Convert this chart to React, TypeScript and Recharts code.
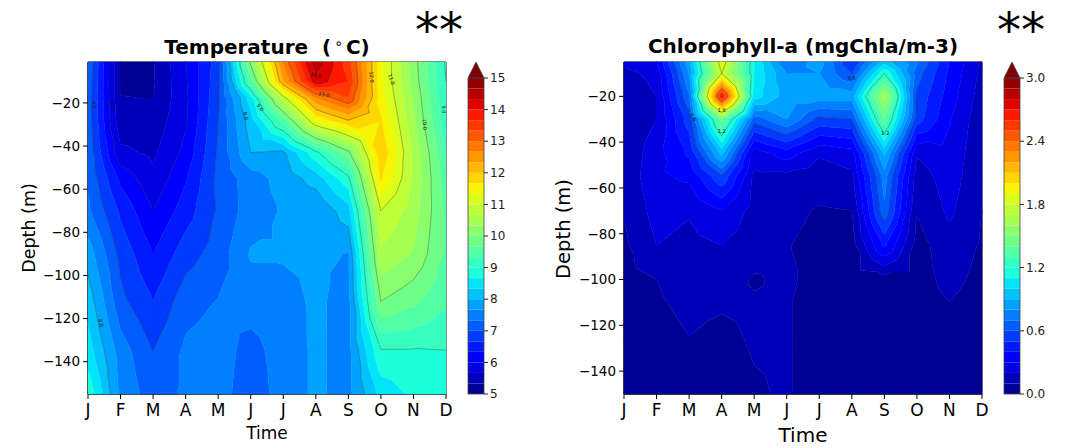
import { ScatterChart, Scatter, XAxis, YAxis, ReferenceArea, Label } from "recharts"

const FONT = "DejaVu Sans"

const months = ["J", "F", "M", "A", "M", "J", "J", "A", "S", "O", "N", "D"]
const monthTicks = [0, 1, 2, 3, 4, 5, 6, 7, 8, 9, 10, 11]

const tempDepths = [-1, -10, -18, -28, -43, -55, -70, -90, -112, -135, -155]
const tempTicks = [-140, -120, -100, -80, -60, -40, -20]
const tempLevels = Array.from({ length: 31 }, (_, i) => 5 + i / 3)
const tempLineLevels = [6, 7, 8, 9, 10, 11, 12, 13, 14]
const tempBarTicks = [5, 6, 7, 8, 9, 10, 11, 12, 13, 14, 15]
// one list per month, top to bottom
const tempByMonth = [
    [7.3, 7.25, 7.2, 7.2, 7.25, 7.3, 7.4, 7.85, 8.2, 8.5, 8.9],
    [5.3, 5.3, 5.34, 5.42, 5.75, 6.25, 6.6, 6.9, 7.1, 7.5, 7.6],
    [5.3, 5.3, 5.33, 5.45, 5.6, 5.75, 6.0, 6.33, 6.67, 7.0, 7.15],
    [5.98, 5.96, 5.93, 5.95, 6.1, 6.3, 6.5, 6.85, 7.2, 7.4, 7.4],
    [6.85, 6.9, 6.95, 7.0, 7.05, 7.1, 7.05, 7.15, 7.35, 7.5, 7.5],
    [10.1, 9.5, 8.5, 8.2, 8.0, 7.5, 7.5, 7.7, 7.5, 7.2, 7.1],
    [12.7, 12.3, 10.8, 9.5, 7.95, 7.8, 7.7, 7.7, 7.55, 7.5, 7.5],
    [14.6, 14.2, 12.6, 11.4, 8.9, 8.15, 7.7, 7.7, 7.72, 7.72, 7.72],
    [13.5, 13.65, 13.3, 12, 9.9, 8.9, 8.2, 7.66, 7.56, 7.56, 7.56],
    [11.4, 11.4, 11.5, 11.7, 11.95, 11.7, 11.0, 10.6, 10.0, 8.97, 8.45],
    [10.15, 10.2, 10.3, 10.4, 10.6, 10.6, 10.5, 10.3, 9.75, 8.97, 8.74],
    [8.95, 9.0, 9.05, 9.1, 9.35, 9.5, 9.6, 9.6, 9.4, 8.99, 8.85],
]
const tempLabels = [
    { x: 0.18, y: -21, text: "7.0", angle: 85 },
    { x: 0.77, y: -21, text: "6.0", angle: 80 },
    { x: 4.85, y: -26, text: "8.0", angle: 75 },
    { x: 5.3, y: -22, text: "9.0", angle: 55 },
    { x: 7, y: -7, text: "14.0", angle: 20 },
    { x: 7.25, y: -16, text: "13.0", angle: 10 },
    { x: 8.72, y: -8, text: "12.0", angle: 88 },
    { x: 9.33, y: -9, text: "11.0", angle: 70 },
    { x: 10.35, y: -30, text: "10.0", angle: 85 },
    { x: 10.93, y: -23, text: "9.0", angle: 90 },
    { x: 0.4, y: -122, text: "8.0", angle: 80 },
]

const chlDepths = [-5, -10, -20, -30, -45, -55, -70, -85, -100, -110, -125, -150]
const chlTicks = [-140, -120, -100, -80, -60, -40, -20]
const chlLevels = Array.from({ length: 31 }, (_, i) => i / 10)
const chlLineLevels = [0.6, 1.2, 1.8, 2.4]
const chlBarTicks = [0, 0.6, 1.2, 1.8, 2.4, 3]
const chlByMonth = [
    [0.22, 0.17, 0.13, 0.12, 0.12, 0.12, 0.105, 0.08, 0.07, 0.06, 0.05, 0.04],
    [0.3, 0.23, 0.2, 0.2, 0.26, 0.28, 0.24, 0.2, 0.1, 0.09, 0.07, 0.05],
    [0.87, 0.8, 0.69, 0.55, 0.42, 0.32, 0.21, 0.17, 0.14, 0.12, 0.1, 0.06],
    [1.9, 1.8, 2.7, 1.45, 0.93, 0.58, 0.3, 0.2, 0.15, 0.11, 0.08, 0.06],
    [1.1, 1.1, 1.05, 0.65, 0.24, 0.18, 0.16, 0.15, 0.09, 0.11, 0.11, 0.09],
    [0.7, 0.8, 0.85, 0.8, 0.35, 0.17, 0.13, 0.105, 0.12, 0.11, 0.11, 0.11],
    [0.85, 0.8, 0.85, 0.57, 0.21, 0.15, 0.09, 0.07, 0.06, 0.05, 0.05, 0.05],
    [0.5, 0.6, 0.85, 0.6, 0.25, 0.18, 0.1, 0.05, 0.05, 0.05, 0.05, 0.05],
    [0.95, 1.2, 1.65, 1.4, 0.92, 0.75, 0.68, 0.42, 0.06, 0.06, 0.05, 0.05],
    [0.72, 0.65, 0.58, 0.55, 0.21, 0.15, 0.105, 0.06, 0.06, 0.06, 0.05, 0.05],
    [0.4, 0.38, 0.35, 0.31, 0.27, 0.25, 0.22, 0.16, 0.13, 0.1, 0.08, 0.05],
    [0.18, 0.17, 0.15, 0.13, 0.12, 0.12, 0.1, 0.09, 0.07, 0.06, 0.05, 0.04],
]
const chlLabels = [
    { x: 2.13, y: -29, text: "0.6", angle: 55 },
    { x: 3, y: -26, text: "1.8", angle: 0 },
    { x: 3, y: -35, text: "1.2", angle: 0 },
    { x: 7, y: -12, text: "0.6", angle: 0 },
    { x: 8.03, y: -36, text: "1.2", angle: 0 },
]

type Vertex = { x: number; y: number; v: number }
type Point = { x: number; y: number }

function ramp(t: number, stops: number[][]) {
    for (let i = 1; i < stops.length; i++) {
        if (t <= stops[i][0]) {
            const [t0, c0] = stops[i - 1]
            const [t1, c1] = stops[i]
            return c0 + ((t - t0) / (t1 - t0)) * (c1 - c0)
        }
    }
    return stops[stops.length - 1][1]
}

// matplotlib's jet
function jet(t: number) {
    const r = ramp(t, [[0, 0], [0.35, 0], [0.66, 1], [0.89, 1], [1, 0.5]])
    const g = ramp(t, [[0, 0], [0.125, 0], [0.375, 1], [0.64, 1], [0.91, 0], [1, 0]])
    const b = ramp(t, [[0, 0.5], [0.11, 1], [0.34, 1], [0.65, 0], [1, 0]])
    return `rgb(${Math.round(r * 255)},${Math.round(g * 255)},${Math.round(b * 255)})`
}

function clipPolygon(poly: Vertex[], level: number, keepAbove: boolean) {
    const out: Vertex[] = []
    const inside = (p: Vertex) => (keepAbove ? p.v >= level : p.v <= level)
    poly.forEach((p, i) => {
        const q = poly[(i + 1) % poly.length]
        if (inside(p)) out.push(p)
        if (inside(p) !== inside(q)) {
            const f = (level - p.v) / (q.v - p.v)
            out.push({ x: p.x + f * (q.x - p.x), y: p.y + f * (q.y - p.y), v: level })
        }
    })
    return out
}

// every grid cell is cut into four triangles around its mean
function triangles(xs: number[], ys: number[], byColumn: number[][]) {
    const tris: Vertex[][] = []
    for (let c = 0; c < xs.length - 1; c++) {
        for (let r = 0; r < ys.length - 1; r++) {
            const a = { x: xs[c], y: ys[r], v: byColumn[c][r] }
            const b = { x: xs[c + 1], y: ys[r], v: byColumn[c + 1][r] }
            const d = { x: xs[c + 1], y: ys[r + 1], v: byColumn[c + 1][r + 1] }
            const e = { x: xs[c], y: ys[r + 1], v: byColumn[c][r + 1] }
            const m = {
                x: (a.x + b.x) / 2,
                y: (a.y + e.y) / 2,
                v: (a.v + b.v + d.v + e.v) / 4,
            }
            tris.push([a, b, m], [b, d, m], [d, e, m], [e, a, m])
        }
    }
    return tris
}

function buildBands(tris: Vertex[][], levels: number[]) {
    const vertices: Point[] = []
    const polygons: { band: number; start: number; size: number }[] = []
    tris.forEach((tri) => {
        for (let band = 0; band < levels.length - 1; band++) {
            let poly = clipPolygon(tri, levels[band], true)
            if (poly.length) poly = clipPolygon(poly, levels[band + 1], false)
            if (poly.length < 3) continue
            polygons.push({ band, start: vertices.length, size: poly.length })
            poly.forEach((p) => vertices.push({ x: p.x, y: p.y }))
        }
    })
    return { vertices, polygons }
}

function buildLines(tris: Vertex[][], levels: number[]) {
    const vertices: Point[] = []
    tris.forEach((tri) => {
        levels.forEach((level) => {
            const hits: Point[] = []
            tri.forEach((p, i) => {
                const q = tri[(i + 1) % 3]
                if (p.v >= level !== q.v >= level) {
                    const f = (level - p.v) / (q.v - p.v)
                    hits.push({ x: p.x + f * (q.x - p.x), y: p.y + f * (q.y - p.y) })
                }
            })
            if (hits.length === 2) vertices.push(hits[0], hits[1])
        })
    })
    return vertices
}

const polyPath = (pts: { x: number; y: number }[], start: number, size: number) => {
    let d = ""
    for (let i = 0; i < size; i++) {
        const p = pts[start + i]
        d += `${i ? "L" : "M"}${p.x.toFixed(2)} ${p.y.toFixed(2)}`
    }
    return d + "Z"
}

interface PanelProps {
    left: number
    width: number
    plotLeft: number
    plotRight: number
    depths: number[]
    ticks: number[]
    byMonth: number[][]
    levels: number[]
    lineLevels: number[]
    labels: { x: number; y: number; text: string; angle: number }[]
    timeDy: number
    timeSize: number
}

function ContourPanel({
    left,
    width,
    plotLeft,
    plotRight,
    depths,
    ticks,
    byMonth,
    levels,
    lineLevels,
    labels,
    timeDy,
    timeSize,
}: PanelProps) {
    const tris = triangles(monthTicks, depths, byMonth)
    const { vertices, polygons } = buildBands(tris, levels)
    const lineVertices = buildLines(tris, lineLevels)
    const bandCount = levels.length - 1

    const drawBands = (props: any) => {
        const paths: string[] = Array.from({ length: bandCount }, () => "")
        polygons.forEach((poly) => {
            paths[poly.band] += polyPath(props.points, poly.start, poly.size)
        })
        return (
            <g>
                {paths.map((d, i) => {
                    const color = jet((i + 0.5) / bandCount)
                    return <path key={i} d={d} fill={color} stroke={color} strokeWidth={0.4} />
                })}
            </g>
        )
    }

    const drawLines = (props: any) => {
        let d = ""
        for (let i = 0; i + 1 < props.points.length; i += 2) {
            const a = props.points[i]
            const b = props.points[i + 1]
            d += `M${a.x.toFixed(2)} ${a.y.toFixed(2)}L${b.x.toFixed(2)} ${b.y.toFixed(2)}`
        }
        return <path d={d} fill="none" stroke="#222" strokeOpacity={0.7} strokeWidth={0.5} />
    }

    const drawLabel = (props: any) => (
        <text
            x={props.cx}
            y={props.cy}
            transform={`rotate(${props.payload.angle} ${props.cx} ${props.cy})`}
            textAnchor="middle"
            dominantBaseline="central"
            fontSize={5}
            fontFamily={FONT}
            fill="#111"
        >
            {props.payload.text}
        </text>
    )

    return (
        <div style={{ position: "absolute", left, top: 0 }}>
            <ScatterChart
                width={width}
                height={448}
                margin={{ top: 62, left: plotLeft - 50, right: width - plotRight, bottom: 24 }}
            >
                <XAxis
                    type="number"
                    dataKey="x"
                    domain={[0, 11]}
                    ticks={monthTicks}
                    interval={0}
                    tickFormatter={(v: number) => months[v]}
                    tick={{ fill: "#000", fontSize: 17, fontFamily: FONT }}
                    tickLine={{ stroke: "#000" }}
                    axisLine={{ stroke: "#000" }}
                    tickSize={5}
                    tickMargin={5}
                    height={30}
                >
                    <Label
                        value="Time"
                        position="bottom"
                        offset={timeDy}
                        style={{ fontSize: timeSize, fontFamily: FONT, fill: "#000" }}
                    />
                </XAxis>
                <YAxis
                    type="number"
                    dataKey="y"
                    domain={[depths[depths.length - 1], depths[0]]}
                    ticks={ticks}
                    interval={0}
                    tickFormatter={(v: number) => String(v).replace("-", "\u2212")}
                    tick={{ fill: "#000", fontSize: 13.5, fontFamily: FONT }}
                    tickLine={{ stroke: "#000" }}
                    axisLine={{ stroke: "#000" }}
                    tickSize={5}
                    tickMargin={3}
                    width={50}
                />
                <Scatter
                    data={vertices}
                    line={drawBands}
                    shape={() => <g />}
                    legendType="none"
                    isAnimationActive={false}
                />
                <Scatter
                    data={lineVertices}
                    line={drawLines}
                    shape={() => <g />}
                    legendType="none"
                    isAnimationActive={false}
                />
                <Scatter data={labels} shape={drawLabel} legendType="none" isAnimationActive={false} />
                <ReferenceArea
                    x1={0}
                    x2={11}
                    y1={depths[depths.length - 1]}
                    y2={depths[0]}
                    fill="none"
                    stroke="#000"
                    strokeWidth={1}
                />
            </ScatterChart>
        </div>
    )
}

function Colorbar({
    left,
    levels,
    ticks,
    top,
    format,
}: {
    left: number
    levels: number[]
    ticks: number[]
    top: number
    format: (v: number) => string
}) {
    const last = levels[levels.length - 1]
    const tip = [
        { x: 0, y: last },
        { x: 0.5, y: top },
        { x: 1, y: last },
    ]
    const drawTip = (props: any) => (
        <path d={polyPath(props.points, 0, 3)} fill="#800000" stroke="#444" strokeWidth={0.8} />
    )
    return (
        <div style={{ position: "absolute", left, top: 0 }}>
            <ScatterChart width={68} height={448} margin={{ top: 62, left: 1, right: 0, bottom: 54 }}>
                <XAxis type="number" dataKey="x" domain={[0, 1]} hide />
                <YAxis
                    type="number"
                    dataKey="y"
                    orientation="right"
                    domain={[levels[0], top]}
                    ticks={ticks}
                    interval={0}
                    tickFormatter={format}
                    tick={{ fill: "#222", fontSize: 12, fontFamily: FONT }}
                    tickLine={{ stroke: "#222" }}
                    axisLine={false}
                    tickSize={4}
                    width={51}
                />
                {levels.slice(0, -1).map((level, i) => (
                    <ReferenceArea
                        key={i}
                        x1={0}
                        x2={1}
                        y1={level}
                        y2={levels[i + 1]}
                        fill={jet((i + 0.5) / (levels.length - 1))}
                        fillOpacity={1}
                        stroke="none"
                    />
                ))}
                <ReferenceArea x1={0} x2={1} y1={levels[0]} y2={last} fill="none" stroke="#444" strokeWidth={0.8} />
                <Scatter data={tip} line={drawTip} shape={() => <g />} legendType="none" isAnimationActive={false} />
            </ScatterChart>
        </div>
    )
}

function Caption({ x, y, size, bold, children }: any) {
    return (
        <div
            style={{
                position: "absolute",
                left: x,
                top: y,
                transform: "translateX(-50%)",
                fontFamily: FONT,
                fontSize: size,
                fontWeight: bold ? 700 : 400,
                color: "#000",
                whiteSpace: "pre",
                lineHeight: 1,
            }}
        >
            {children}
        </div>
    )
}

function DepthLabel({ x, y, size }: { x: number; y: number; size: number }) {
    return (
        <div
            style={{
                position: "absolute",
                left: x,
                top: y,
                transform: "translate(-50%, -50%) rotate(-90deg)",
                fontFamily: FONT,
                fontSize: size,
                color: "#000",
                whiteSpace: "pre",
                lineHeight: 1,
            }}
        >
            Depth (m)
        </div>
    )
}

export default function App() {
    return (
        <div
            style={{
                position: "absolute",
                left: 0,
                top: 0,
                width: 1076,
                height: 448,
                background: "#fff",
                overflow: "hidden",
            }}
        >
            <ContourPanel
                left={0}
                width={470}
                plotLeft={88}
                plotRight={446}
                depths={tempDepths}
                ticks={tempTicks}
                byMonth={tempByMonth}
                levels={tempLevels}
                lineLevels={tempLineLevels}
                labels={tempLabels}
                timeDy={3}
                timeSize={17}
            />
            <ContourPanel
                left={540}
                width={460}
                plotLeft={84}
                plotRight={442}
                depths={chlDepths}
                ticks={chlTicks}
                byMonth={chlByMonth}
                levels={chlLevels}
                lineLevels={chlLineLevels}
                labels={chlLabels}
                timeDy={4}
                timeSize={20}
            />
            <Colorbar
                left={467}
                levels={tempLevels}
                ticks={tempBarTicks}
                top={15.506}
                format={(v) => String(v)}
            />
            <Colorbar
                left={1003}
                levels={chlLevels}
                ticks={chlBarTicks}
                top={3.152}
                format={(v) => v.toFixed(1)}
            />
            <Caption x={267} y={36} size={20} bold>
                {"Temperature  ("}
                <span style={{ fontSize: 14, fontWeight: 400, verticalAlign: 6, margin: "0 3px" }}>{"\u2218"}</span>
                {"C)"}
            </Caption>
            <Caption x={803} y={36} size={20} bold>
                Chlorophyll-a (mgChla/m-3)
            </Caption>
            <Caption x={439} y={6} size={48}>
                **
            </Caption>
            <Caption x={1021} y={6} size={48}>
                **
            </Caption>
            <DepthLabel x={30} y={228} size={17.5} />
            <DepthLabel x={564} y={229} size={19.5} />
        </div>
    )
}
